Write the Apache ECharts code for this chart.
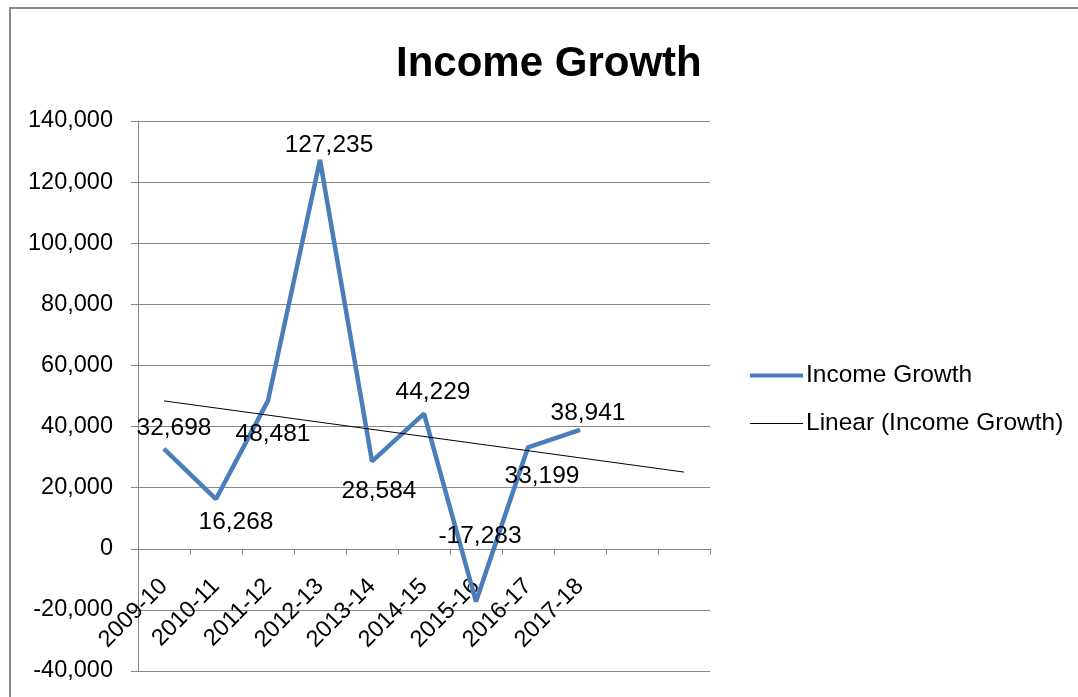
<!DOCTYPE html>
<html>
<head>
<meta charset="utf-8">
<title>Income Growth</title>
<script src="https://cdn.jsdelivr.net/npm/echarts@6/dist/echarts.min.js"></script>
<style>
  html, body { margin: 0; padding: 0; background: #fff; }
  #chart { width: 1078px; height: 697px; }
</style>
</head>
<body>
<div id="chart"></div>
<script>
// categories (last two slots are empty, the trend runs on into them)
const years = ['2009-10', '2010-11', '2011-12', '2012-13', '2013-14', '2014-15', '2015-16', '2016-17', '2017-18', '', ''];
const incomeGrowth = [32698, 16268, 48481, 127235, 28584, 44229, -17283, 33199, 38941];
// linear trend at its two ends
const trendLine = [48400, null, null, null, null, null, null, null, null, null, 25100];
const yTicks = { min: -40000, max: 140000, step: 20000 };

// where each data label sits relative to its point (px)
const labelShift = [[10, -21], [20, 23], [5, 34], [9, -15], [7, 30], [9, -21], [4, -65], [14, 29], [8, -17]];

const font = 'Liberation Sans';
const gray = '#868686';

const gridTop = 121;
const gridBottom = 26;
const plotHeight = 697 - gridTop - gridBottom;
// the category axis sits on the zero line
const zeroShift = (0 - yTicks.min) / (yTicks.max - yTicks.min) * plotHeight;

const chart = echarts.init(document.getElementById('chart'));

const option = {
  animation: false,
  textStyle: { fontFamily: font },
  graphic: [{
    type: 'rect',
    shape: { x: 10, y: 8, width: 1100, height: 720 },
    style: { fill: 'none', stroke: '#8a8a8a', lineWidth: 2 },
    silent: true
  }],
  title: {
    text: 'Income Growth',
    left: 391,
    top: 38,
    textStyle: { fontFamily: font, fontSize: 42, fontWeight: 'bold', color: '#000' }
  },
  legend: [{
    data: [{ name: 'Income Growth', icon: 'rect' }],
    orient: 'vertical',
    left: 745,
    top: 358,
    itemWidth: 53,
    itemHeight: 4,
    textStyle: { fontFamily: font, fontSize: 24.5, color: '#000', padding: [0, 0, 0, -2] }
  }, {
    data: [{ name: 'Linear (Income Growth)', icon: 'rect' }],
    orient: 'vertical',
    left: 745,
    top: 406,
    itemWidth: 53,
    itemHeight: 1,
    textStyle: { fontFamily: font, fontSize: 24.5, color: '#000', padding: [0, 0, 0, -2] }
  }],
  grid: { left: 138, right: 368, top: gridTop, bottom: gridBottom, containLabel: false, outerBoundsMode: 'none' },
  xAxis: {
    type: 'category',
    data: years,
    boundaryGap: true,
    offset: -zeroShift,
    axisLine: { onZero: false, lineStyle: { color: gray, width: 1 } },
    axisTick: { show: true, interval: 0, length: 6, lineStyle: { color: gray } },
    axisLabel: {
      interval: 0,
      rotate: 45,
      margin: 34,
      fontFamily: font,
      fontSize: 23.5,
      color: '#000'
    },
    splitLine: { show: false }
  },
  yAxis: {
    type: 'value',
    min: yTicks.min,
    max: yTicks.max,
    interval: yTicks.step,
    axisLine: { show: true, lineStyle: { color: gray, width: 1 } },
    axisTick: { show: true, length: 7, lineStyle: { color: gray } },
    axisLabel: {
      margin: 25,
      fontFamily: font,
      fontSize: 23.5,
      color: '#000',
      formatter: v => v.toLocaleString('en-US')
    },
    splitLine: { lineStyle: { color: gray, width: 1 } }
  },
  series: [{
    name: 'Income Growth',
    type: 'line',
    data: incomeGrowth.map((v, i) => ({
      value: v,
      label: { offset: labelShift[i] }
    })),
    symbol: 'circle',
    symbolSize: 1,
    showSymbol: true,
    itemStyle: { color: '#4a7ebb' },
    lineStyle: { color: '#4a7ebb', width: 4.5 },
    label: {
      show: true,
      position: 'inside',
      fontFamily: font,
      fontSize: 24.5,
      color: '#000',
      formatter: p => p.value.toLocaleString('en-US')
    },
    z: 3
  }, {
    name: 'Linear (Income Growth)',
    type: 'line',
    data: trendLine,
    connectNulls: true,
    symbol: 'none',
    itemStyle: { color: '#000' },
    lineStyle: { color: '#000', width: 1 },
    z: 4
  }]
};

chart.setOption(option);
</script>
</body>
</html>
